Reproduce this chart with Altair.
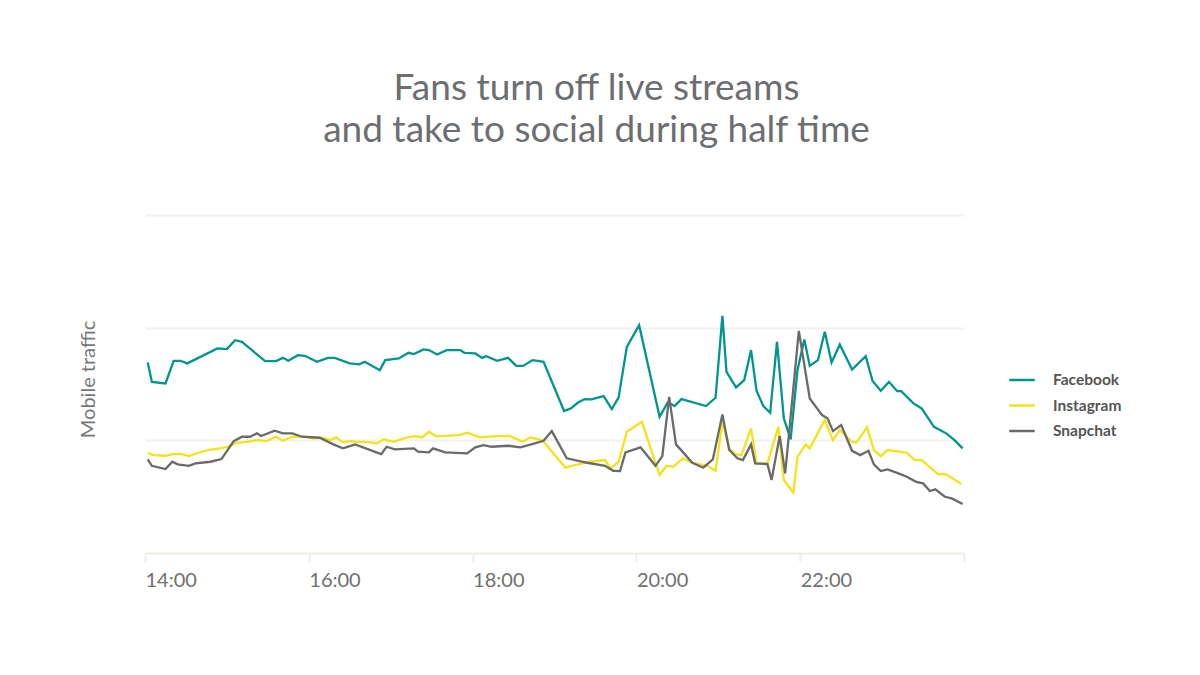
import altair as alt
import pandas as pd

# minutes after 14:00 and traffic index (gridlines at 100, 200, 300)
fb_minutes = [2, 5, 15, 21, 26, 31, 53, 60, 66, 71,
              88, 96, 101, 105, 112, 117, 126, 134, 139, 150,
              157, 161, 172, 176, 186, 193, 197, 204, 208, 214,
              221, 231, 234, 242, 247, 250, 258, 266, 272, 277,
              284, 292, 307, 312, 317, 322, 327, 336, 342, 347,
              353, 362, 377, 383, 388, 393, 411, 418, 423, 426,
              433, 439, 444, 448, 453, 458, 463, 468, 473, 478,
              483, 487, 493, 498, 503, 509, 518, 528, 533, 539,
              545, 551, 554, 563, 569, 578, 587, 593, 599]
fb_values = [169.2, 151.9, 150.5, 170.6, 170.6, 168.3, 181.6, 181, 188.9, 187.4,
             170.3, 170.3, 173.2, 170.6, 175.6, 175, 169.7, 173.2, 173.2, 168.3,
             167.4, 169.7, 162.3, 171.2, 172.7, 177.7, 176.5, 180.7, 180.1, 176.2,
             180.1, 180.1, 177.7, 177.1, 173.2, 174.7, 170.6, 173.2, 166.1, 166.1,
             171.2, 169.7, 126, 128.3, 133.3, 136.6, 136.3, 139.3, 127.7, 138.1,
             183, 202.2, 120.9, 133.7, 130.4, 136.6, 130.4, 137.8, 210.5, 160.8,
             147, 153.5, 180.1, 144, 130.4, 124.4, 187.4, 119.5, 100.9, 162.3,
             189.6, 166.1, 171.2, 196.3, 169.2, 185.1, 162.9, 174.7, 152.6, 144,
             151.9, 143.7, 143.7, 132.8, 128.3, 112, 106.2, 100.2, 92.9]

ig_minutes = [2, 6, 15, 20, 27, 32, 39, 46, 57, 61,
              67, 75, 82, 89, 96, 101, 108, 116, 123, 130,
              136, 140, 145, 150, 155, 162, 170, 175, 182, 192,
              198, 203, 208, 213, 221, 230, 236, 245, 258, 267,
              277, 282, 291, 308, 315, 326, 337, 341, 347, 353,
              364, 377, 382, 387, 394, 401, 412, 418, 423, 428,
              432, 437, 444, 448, 456, 464, 468, 475, 478, 484,
              487, 498, 504, 509, 518, 521, 529, 534, 539, 544,
              558, 564, 569, 581, 587, 598]
ig_values = [89, 86.9, 86.3, 87.8, 87.8, 86, 89, 91.4, 93.4, 94.3,
             97.8, 98.7, 100.2, 99.3, 103.2, 99.6, 103.2, 103.2, 101.7, 102.3,
             100.2, 102.6, 98.2, 99.3, 98.7, 98.7, 97.3, 100.9, 98.7, 102.6,
             103.8, 102.6, 107.6, 103.8, 104, 104.7, 106.7, 102.6, 103.8, 104,
             98.7, 102.6, 100.2, 75.7, 78.1, 81, 82.5, 75.1, 81, 107.6,
             116.5, 69.2, 77.4, 76.5, 84, 80.1, 77.4, 73, 116.5, 92.9,
             87.8, 86.9, 110.6, 79.6, 79.6, 112, 64.8, 53.5, 85.4, 96.4,
             92.9, 118, 100.2, 109.1, 98.7, 97.8, 111.5, 91.4, 86, 91.4,
             89, 82.5, 82.5, 70.1, 69.8, 61.2]

sc_minutes = [2, 5, 15, 20, 24, 32, 37, 48, 56, 65,
              71, 77, 82, 85, 95, 101, 108, 115, 128, 138,
              145, 150, 154, 173, 177, 183, 197, 200, 208, 211,
              220, 236, 242, 248, 254, 266, 275, 283, 292, 298,
              309, 324, 337, 343, 348, 352, 363, 374, 379, 384,
              389, 401, 409, 416, 423, 428, 434, 438, 444, 447,
              456, 459, 465, 469, 479, 487, 496, 500, 504, 510,
              518, 524, 530, 534, 539, 544, 552, 558, 565, 570,
              575, 579, 586, 591, 599]
sc_values = [83.1, 77.4, 74.5, 81, 78.7, 77.4, 79.6, 81, 83.4, 99.3,
             103.2, 103.2, 106.2, 103.8, 108.5, 106.2, 106.2, 103.2, 102.3, 96.4,
             92.9, 94.9, 96.4, 87.8, 94.3, 92, 92.9, 89.9, 89.3, 92.9,
             89.3, 88.4, 93.8, 95.8, 94.3, 95.2, 93.8, 96.4, 99.6, 108.2,
             84, 80.1, 77.4, 73, 72.7, 89.3, 93.8, 77.4, 86, 138.6,
             96.4, 80.1, 75.7, 83.1, 123, 91.4, 84, 82.5, 96.4, 79.6,
             78.9, 64.8, 103.8, 70.7, 197.2, 137.2, 122.4, 119.5, 108.2, 113.5,
             90.7, 86.9, 90.7, 78.7, 72.7, 74.2, 70.7, 67.7, 63.2, 61.8,
             55, 56.5, 49.9, 48.5, 43.5]

series_names = ["Facebook", "Instagram", "Snapchat"]
series_colors = ["#00968f", "#f4e21a", "#6a6a6a"]
tick_minutes = [0, 120, 240, 360, 480, 600]

frames = []
for name, mins, vals in [("Facebook", fb_minutes, fb_values),
                         ("Instagram", ig_minutes, ig_values),
                         ("Snapchat", sc_minutes, sc_values)]:
    frames.append(pd.DataFrame({"minute": mins, "traffic": vals, "network": name}))
df = pd.concat(frames, ignore_index=True)

chart = alt.Chart(df).mark_line(strokeWidth=2.3).encode(
    x=alt.X("minute:Q",
            scale=alt.Scale(domain=[0, 600], nice=False, zero=False),
            axis=alt.Axis(title=None, values=tick_minutes, grid=False,
                          labelExpr="datum.value < 600 ? (14 + datum.value/60) + ':00' : ''",
                          labelAlign="left", labelBaseline="top", labelFlush=False,
                          labelFont="Lato", labelFontSize=20, labelColor="#707070",
                          labelPadding=8, tickSize=9, tickWidth=2, tickColor="#efede6",
                          domainColor="#efede6", domainWidth=2)),
    y=alt.Y("traffic:Q",
            scale=alt.Scale(domain=[0, 300], nice=False),
            axis=alt.Axis(title="Mobile traffic", labels=False, ticks=False, domain=False,
                          values=[100, 200, 300], gridColor="#f3f1ea", gridWidth=2,
                          titleFont="Lato", titleFontSize=20, titleFontWeight="normal",
                          titleColor="#777777", titlePadding=47, titleY=164)),
    color=alt.Color("network:N",
                    scale=alt.Scale(domain=series_names, range=series_colors),
                    legend=alt.Legend(title=None, orient="none", legendX=863, legendY=151,
                                      symbolType="stroke", symbolSize=650, symbolStrokeWidth=2.5,
                                      labelFont="Lato", labelFontSize=15.5, labelFontWeight="bold",
                                      labelColor="#555555", labelOffset=17, rowPadding=2.5)),
    detail="network:N",
).properties(
    width=819,
    height=338,
    padding={"left": 137, "top": 207, "right": 220, "bottom": 100},
    autosize=alt.AutoSizeParams(type="none"),
    title=alt.TitleParams(text=["Fans turn off live streams", "and take to social during half time"],
                          font="Lato", fontSize=37, fontWeight="normal", color="#6d6e71",
                          lineHeight=42, anchor="middle", frame="group", dx=42, offset=65),
).configure_view(stroke=None)

chart.save("out.html", embed_options={"renderer": "svg", "actions": False})
